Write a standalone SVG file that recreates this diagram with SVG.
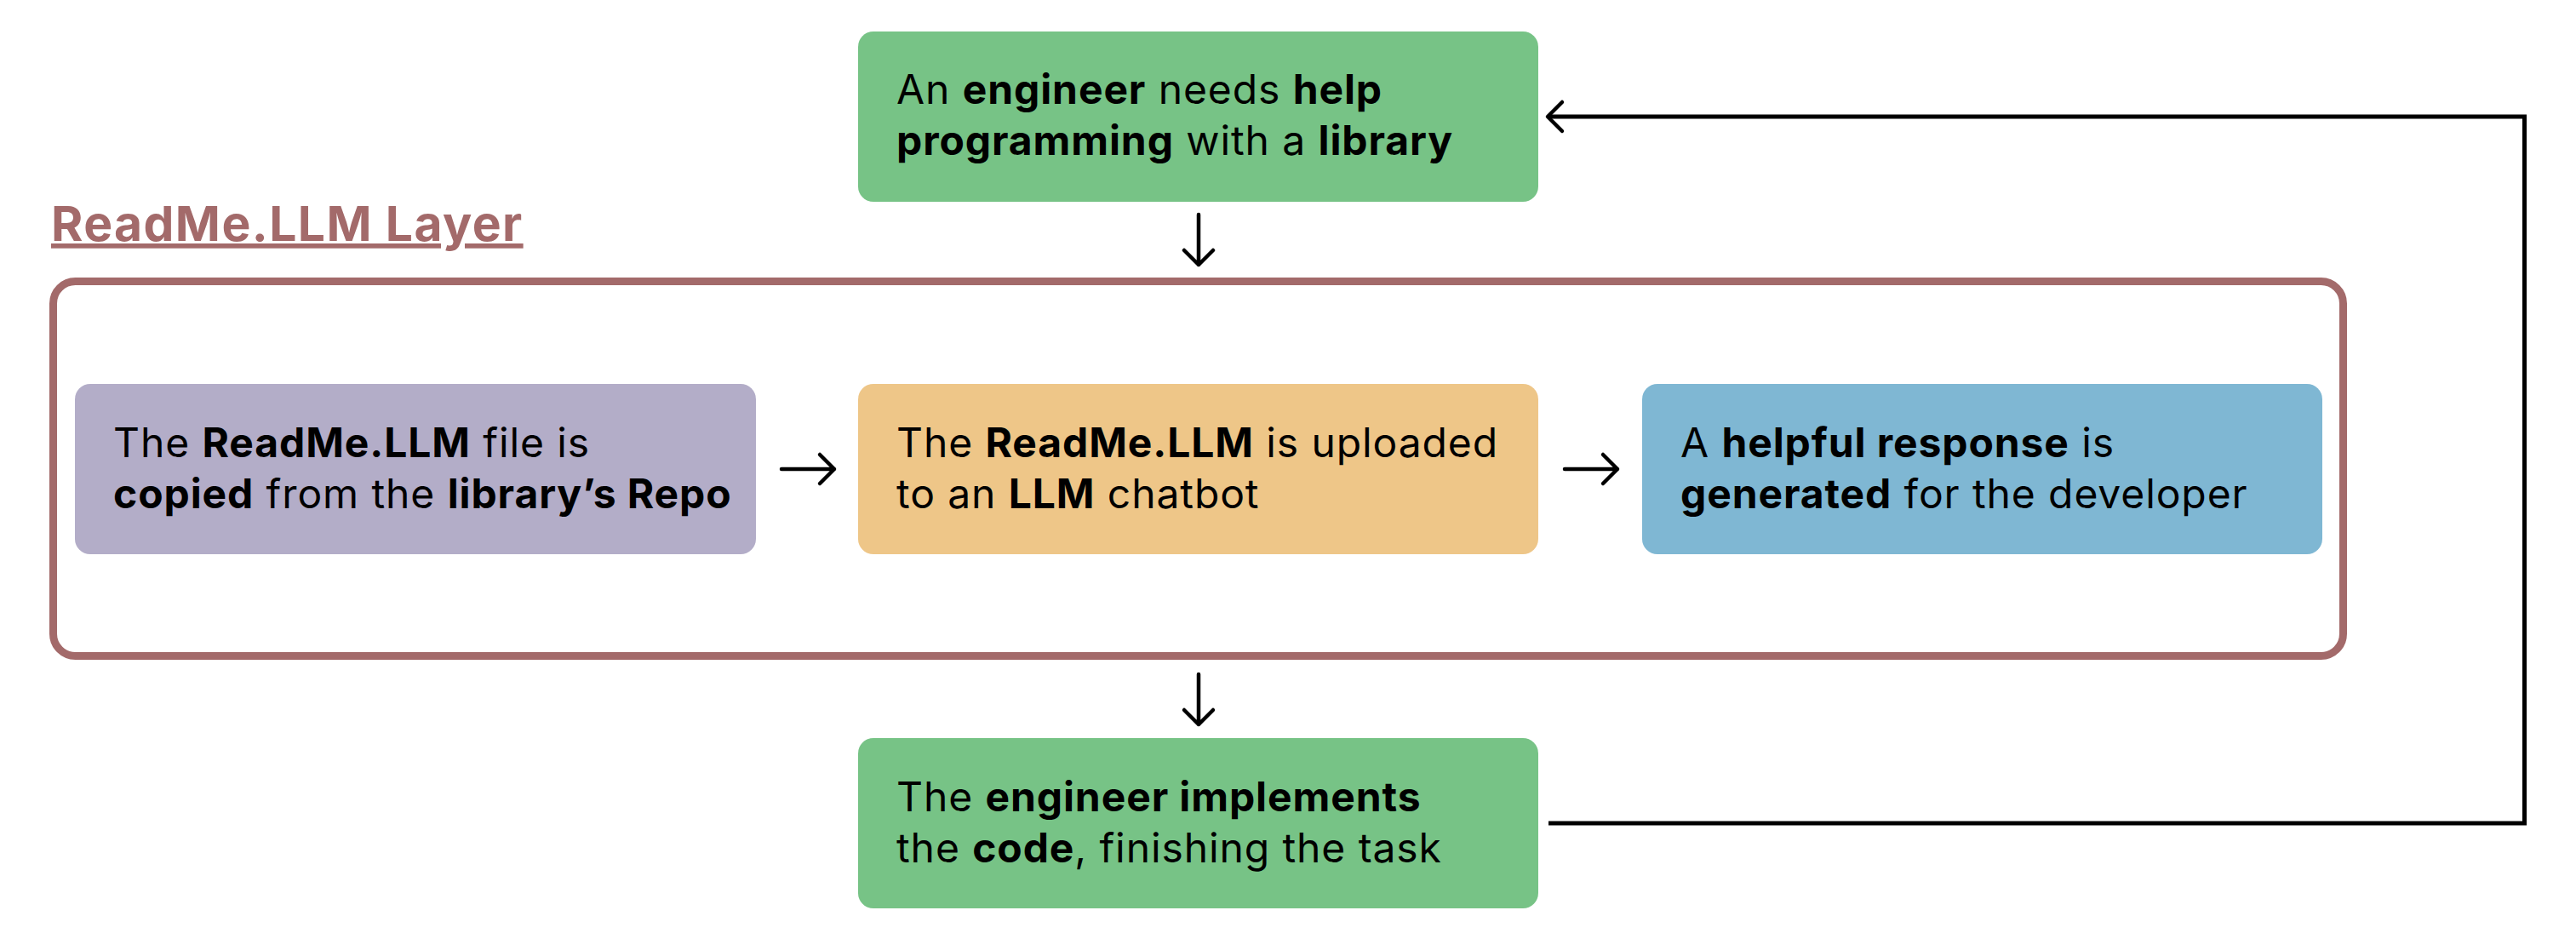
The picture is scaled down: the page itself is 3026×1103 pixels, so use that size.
<svg xmlns="http://www.w3.org/2000/svg" width="3026" height="1103" viewBox="0 0 3026 1103">
<style>
.t{font-family:Inter,"Noto Sans","Liberation Sans",sans-serif;font-size:48px;letter-spacing:0.9px;fill:#000;}
.b{font-weight:700;}
.c{fill:none;stroke:#000;stroke-width:4.5;stroke-linecap:round;stroke-linejoin:round;}
.title{font-family:Inter,"Noto Sans","Liberation Sans",sans-serif;font-size:57px;letter-spacing:1.4px;font-weight:700;fill:#A36A6A;text-decoration:underline;text-decoration-thickness:5px;text-underline-offset:12px;}
</style>
<rect width="3026" height="1103" fill="#fff"/>
<g id="layer">
<text class="title" x="60" y="283">ReadMe.LLM Layer</text>
<rect x="62.5" y="330.5" width="2690" height="440" rx="26" fill="none" stroke="#A36A6A" stroke-width="9"/>
</g>
<g id="n1">
<rect x="1008" y="37" width="799" height="200" rx="18" fill="#77C386"/>
<text class="t" x="1053" y="122">An <tspan class="b">engineer</tspan> needs <tspan class="b">help</tspan></text>
<text class="t" x="1053" y="182"><tspan class="b">programming</tspan> with a <tspan class="b">library</tspan></text>
</g>
<g id="n2">
<rect x="88" y="451" width="800" height="200" rx="18" fill="#B3ADC8"/>
<text class="t" x="133" y="537">The <tspan class="b">ReadMe.LLM</tspan> file is</text>
<text class="t" x="133" y="597"><tspan class="b">copied</tspan> from the <tspan class="b">library’s Repo</tspan></text>
</g>
<g id="n3">
<rect x="1008" y="451" width="799" height="200" rx="18" fill="#EEC688"/>
<text class="t" x="1053" y="537">The <tspan class="b">ReadMe.LLM</tspan> is uploaded</text>
<text class="t" x="1053" y="597">to an <tspan class="b">LLM</tspan> chatbot</text>
</g>
<g id="n4">
<rect x="1929" y="451" width="799" height="200" rx="18" fill="#7FB7D3"/>
<text class="t" x="1974" y="537">A <tspan class="b">helpful response</tspan> is</text>
<text class="t" x="1974" y="597"><tspan class="b">generated</tspan> for the developer</text>
</g>
<g id="n5">
<rect x="1008" y="867" width="799" height="200" rx="18" fill="#77C386"/>
<text class="t" x="1053" y="953">The <tspan class="b">engineer implements</tspan></text>
<text class="t" x="1053" y="1013">the <tspan class="b">code</tspan>, finishing the task</text>
</g>
<g id="connectors">
<path class="c" d="M1408 252 V311 M1391 294 L1408 311 L1425 294"/>
<path class="c" d="M918 551 H980 M963 534 L980 551 L963 568"/>
<path class="c" d="M1838 551 H1900 M1883 534 L1900 551 L1883 568"/>
<path class="c" d="M1408 792 V851 M1391 834 L1408 851 L1425 834"/>
<path d="M1819 967 H2965.5 V137 H1818" fill="none" stroke="#000" stroke-width="5"/>
<path class="c" d="M1835 120 L1818 137 L1835 154"/>
</g>
</svg>
